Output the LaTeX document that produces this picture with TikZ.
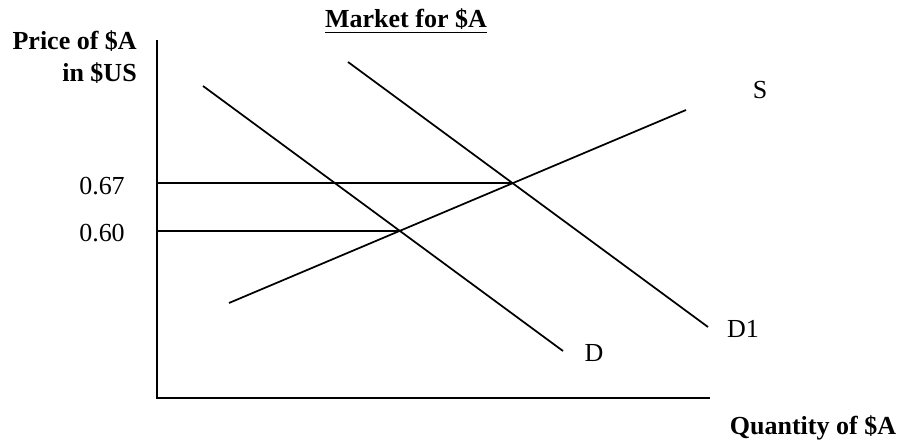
\documentclass[tikz,border=0pt]{standalone}
\usepackage{fontspec}
\setmainfont{Liberation Serif}
\usetikzlibrary{positioning}

\tikzset{
    curve/.style={line width=1.3pt},
    axis/.style={line width=1.5pt},
    lbl/.style={font=\fontsize{19.5}{23}\selectfont, inner sep=0pt},
    axlbl/.style={lbl, font=\fontsize{19.5}{23}\selectfont\bfseries}
}

\begin{document}
\begin{tikzpicture}[x=0.75pt, y=-0.75pt]
    \useasboundingbox (0,0) rectangle (901,441);

    % Axes
    \coordinate (origin) at (157,398);
    \coordinate (ytop) at (157,40);
    \coordinate (xend) at (710,398);
    \draw[axis] (ytop) -- (origin) -- (xend);

    % Curves
    \coordinate (s0) at (229,303);
    \coordinate (s1) at (686,110);
    \coordinate (d0) at (203,86);
    \coordinate (d1) at (563,351);
    \coordinate (e0) at (348,62);
    \coordinate (e1) at (708,327);
    \draw[curve] (s0) -- (s1);
    \draw[curve] (d0) -- (d1);
    \draw[curve] (e0) -- (e1);

    % Equilibrium prices
    \coordinate (p67) at (157,183);
    \coordinate (q67) at (513,183);
    \coordinate (p60) at (157,231);
    \coordinate (q60) at (401,231);
    \draw[curve] (p67) -- (q67);
    \draw[curve] (p60) -- (q60);

    % Labels
    \node[lbl] (l67) at (102,186) {0.67};
    \node[lbl] (l60) at (102,233) {0.60};
    \node[lbl] (lS) at (760,90) {S};
    \node[lbl] (lD) at (594,353) {D};
    \node[lbl] (lD1) at (743,329) {D1};

    \node[axlbl, anchor=base east] (price) at (137,50) {Price of \$A};
    \node[axlbl, anchor=base east] (unit) at (137,82) {in \$US};
    \node[axlbl, anchor=base] (title) at (406,28) {\underline{Market for \$A}};
    \node[axlbl, anchor=base] (qty) at (813,435) {Quantity of \$A};
\end{tikzpicture}
\end{document}
